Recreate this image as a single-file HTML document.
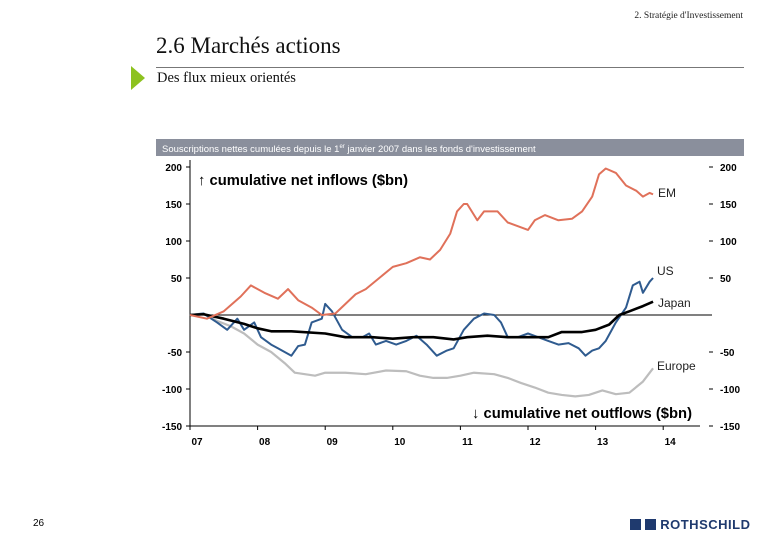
<!DOCTYPE html>
<html><head><meta charset="utf-8"><style>
body{margin:0;width:780px;height:540px;background:#fff;overflow:hidden;position:relative;font-family:"Liberation Serif",serif}
.abs{position:absolute}
</style></head><body>
<div class="abs" style="right:37px;top:11px;font-size:9.5px;color:#222">2. Stratégie d'Investissement</div>
<div class="abs" style="left:156px;top:33px;font-size:23px;color:#111">2.6 Marchés actions</div>
<div class="abs" style="left:156px;top:67px;width:588px;height:1px;background:#777"></div>
<div class="abs" style="left:131px;top:66px;width:0;height:0;border-left:14px solid #8dc21f;border-top:12px solid transparent;border-bottom:12px solid transparent"></div>
<div class="abs" style="left:157px;top:70px;font-size:14.5px;color:#111">Des flux mieux orientés</div>
<div class="abs" style="left:156px;top:139px;width:588px;height:17px;background:#8a8f9c;color:#fff;font-family:'Liberation Sans',sans-serif;font-size:9.5px;line-height:17px;padding-left:6px;box-sizing:border-box">Souscriptions nettes cumulées depuis le 1<sup style="font-size:6px">er</sup> janvier 2007 dans les fonds d'investissement</div>
<svg class="abs" style="left:0;top:0" width="780" height="540" id="chart"></svg>
<div class="abs" style="left:33px;top:518px;font-family:'Liberation Sans',sans-serif;font-size:10px">26</div>
<div class="abs" style="left:630px;top:517px;font-family:'Liberation Sans',sans-serif;font-size:13px;font-weight:bold;color:#1f3a6e;letter-spacing:0.5px"><span style="display:inline-block;width:11px;height:11px;background:#1f3a6e;vertical-align:-1px"></span> <span style="display:inline-block;width:11px;height:11px;background:#1f3a6e;vertical-align:-1px"></span> ROTHSCHILD</div>
<script>
const yTicks=[200,150,100,50,-50,-100,-150];
const xLabels=['07','08','09','10','11','12','13','14'];
const emX=[7.0,7.25,7.5,7.75,7.9,8.1,8.3,8.45,8.6,8.8,8.95,9.15,9.3,9.45,9.6,9.8,10.0,10.2,10.4,10.55,10.7,10.85,10.95,11.05,11.1,11.25,11.35,11.55,11.7,11.85,12.0,12.1,12.25,12.45,12.65,12.8,12.95,13.05,13.15,13.3,13.45,13.6,13.7,13.8,13.85];
const emY=[0,-5,5,25,40,30,22,35,20,10,0,2,15,28,35,50,65,70,78,75,88,110,140,150,150,128,140,140,125,120,115,128,135,128,130,140,160,190,198,192,175,168,160,165,163];
const usX=[7.0,7.2,7.4,7.55,7.7,7.8,7.95,8.05,8.2,8.3,8.4,8.5,8.6,8.7,8.8,8.95,9.0,9.1,9.25,9.4,9.55,9.65,9.75,9.9,10.05,10.2,10.35,10.5,10.65,10.8,10.9,11.05,11.2,11.35,11.5,11.6,11.7,11.85,12.0,12.15,12.3,12.45,12.6,12.75,12.85,12.95,13.05,13.15,13.3,13.45,13.55,13.65,13.7,13.8,13.85];
const usY=[0,2,-10,-20,-5,-20,-10,-30,-40,-45,-50,-55,-42,-40,-10,-5,15,5,-20,-30,-30,-25,-40,-35,-40,-35,-28,-40,-55,-48,-45,-20,-5,2,0,-10,-30,-30,-25,-30,-35,-40,-38,-45,-55,-48,-45,-35,-10,10,40,45,30,45,50];
const jpX=[7.0,7.2,7.5,7.8,8.0,8.2,8.5,9.0,9.3,9.7,10.0,10.3,10.6,10.9,11.1,11.4,11.7,12.0,12.3,12.5,12.8,13.0,13.2,13.35,13.5,13.7,13.85];
const jpY=[0,1,-5,-12,-18,-22,-22,-25,-30,-30,-32,-30,-30,-33,-30,-28,-30,-30,-30,-23,-23,-20,-13,0,5,12,18];
const euX=[7.0,7.2,7.4,7.6,7.8,8.0,8.2,8.4,8.55,8.7,8.85,9.0,9.3,9.6,9.9,10.2,10.4,10.6,10.8,11.0,11.2,11.5,11.7,11.9,12.1,12.3,12.5,12.7,12.9,13.1,13.3,13.5,13.7,13.85];
const euY=[0,2,-8,-15,-25,-40,-50,-65,-78,-80,-82,-78,-78,-80,-75,-76,-82,-85,-85,-82,-78,-80,-85,-92,-98,-105,-108,-110,-108,-102,-107,-105,-90,-72];
const svg=document.getElementById('chart');const NS='http://www.w3.org/2000/svg';
const X=v=>190+(v-7)*67.6, Y=v=>315-v*0.74;
function mk(t,a,txt){const e=document.createElementNS(NS,t);for(const k in a)e.setAttribute(k,a[k]);if(txt!==undefined)e.textContent=txt;svg.appendChild(e);return e;}
let e=mk('line',{x1:190,y1:160,x2:190,y2:426,stroke:'#000','stroke-width':1});


e=mk('line',{x1:190,y1:426,x2:700,y2:426,stroke:'#000','stroke-width':1});


e=mk('line',{x1:190,y1:Y(0),x2:712,y2:Y(0),stroke:'#000','stroke-width':1});


const sty={'font-family':'Liberation Sans,sans-serif','font-size':'10px','font-weight':'bold'};
yTicks.forEach((v)=>{
 let t=mk('text',Object.assign({x:182,y:Y(v)+4,'text-anchor':'end'},sty),v);
 
 
 t=mk('text',Object.assign({x:720,y:Y(v)+4},sty),v);
 
 
 let l=mk('line',{x1:709,x2:713,y1:Y(v),y2:Y(v),stroke:'#000'});
 
 
 l=mk('line',{x1:186,x2:190,y1:Y(v),y2:Y(v),stroke:'#000'});
 
 
});
xLabels.forEach((s,i)=>{const t=mk('text',Object.assign({x:X(7+i)+7,y:445,'text-anchor':'middle'},sty),s);
 
 
 const l=mk('line',{x1:X(7+i),x2:X(7+i),y1:426,y2:430,stroke:'#000'});
 
 });
function series(xs,ys,col,w,name){const p=mk('polyline',{points:xs.map((x,i)=>X(x)+','+Y(ys[i])).join(' '),fill:'none',stroke:col,'stroke-width':w,'stroke-linejoin':'round'});
 
 }
series(euX,euY,'#bdbdbd',2.2,'europe-line');
series(usX,usY,'#2f5b8f',2,'us-line');
series(jpX,jpY,'#000',2.6,'japan-line');
series(emX,emY,'#e0715a',2,'em-line');
const ls={'font-family':'Liberation Sans,sans-serif','font-size':'12px',fill:'#222'};
[['EM',658,197,'label-em'],['US',657,275,'label-us'],['Japan',658,307,'label-japan'],['Europe',657,370,'label-europe']].forEach(a=>{const t=mk('text',Object.assign({x:a[1],y:a[2]},ls),a[0]);
 
 });
const bs={'font-family':'Liberation Sans,sans-serif','font-size':'15px','font-weight':'bold'};
let t=mk('text',Object.assign({x:198,y:185,textLength:210,lengthAdjust:'spacingAndGlyphs'},bs),'\u2191 cumulative net inflows ($bn)');


t=mk('text',Object.assign({x:472,y:418,textLength:220,lengthAdjust:'spacingAndGlyphs'},bs),'\u2193 cumulative net outflows ($bn)');


</script>
</body></html>
